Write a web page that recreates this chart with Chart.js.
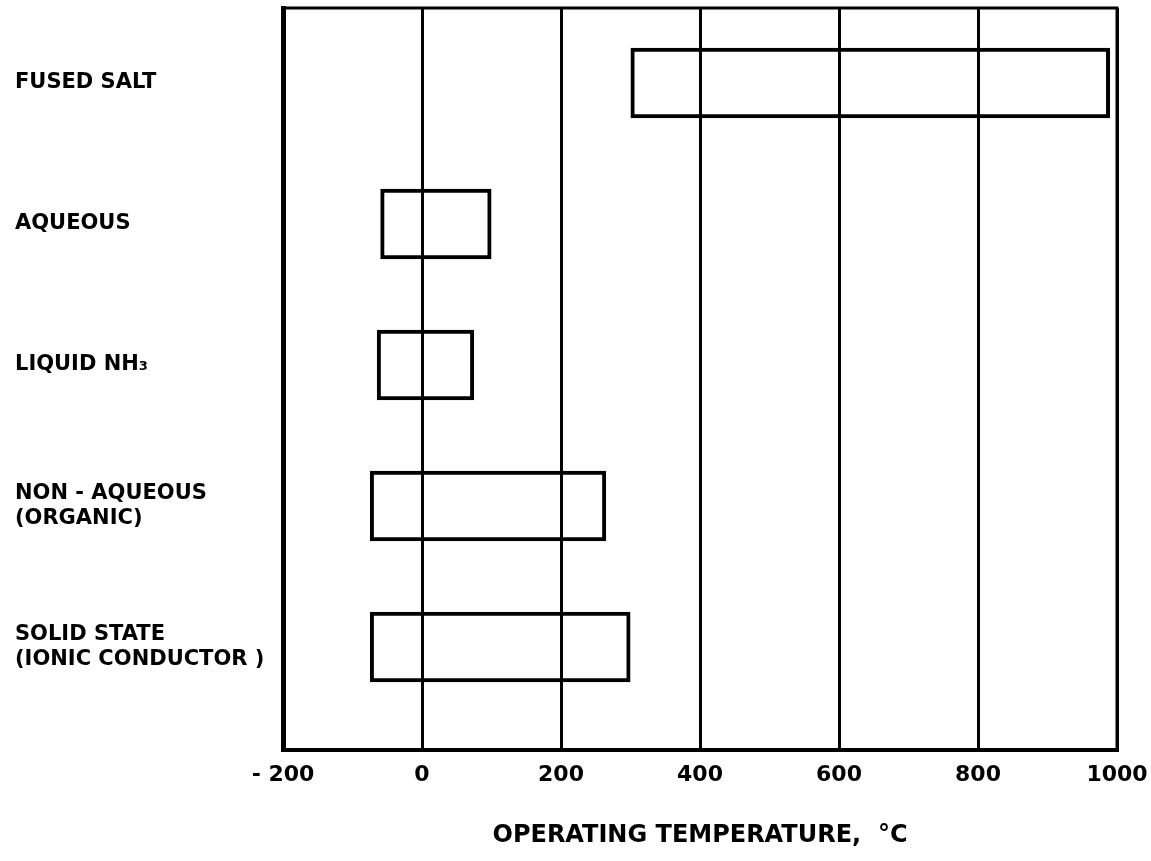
<!DOCTYPE html>
<html>
<head>
<meta charset="utf-8">
<script src="https://cdn.jsdelivr.net/npm/chart.js@4/dist/chart.umd.min.js"></script>
<style>
  html, body { margin: 0; padding: 0; background: #fff; }
  #wrap { width: 1151px; height: 861px; }
</style>
</head>
<body>
<div id="wrap"><canvas id="chart"></canvas></div>
<script>
// electrolyte types, top to bottom
const categories = [
  "FUSED SALT",
  "AQUEOUS",
  "LIQUID NH₃",
  ["NON - AQUEOUS", "(ORGANIC)"],
  ["SOLID STATE", "(IONIC CONDUCTOR )"]
];
// operating range, deg C
const rangeLow = [300, -60, -65, -75, -75];
const rangeHigh = [990, 100, 75, 265, 300];
const xTicks = [-200, 0, 200, 400, 600, 800, 1000];
const xTitle = "OPERATING TEMPERATURE,  °C";

const fontFam = "'DejaVu Sans', sans-serif";

const bars = categories.map((c, i) => ({ x: [rangeLow[i], rangeHigh[i]], y: i }));

// top + right edges of the frame
const framePlugin = {
  id: "frame",
  afterDraw(chart) {
    const { ctx, chartArea: a } = chart;
    ctx.save();
    ctx.strokeStyle = "#000";
    ctx.lineWidth = 3;
    ctx.beginPath();
    ctx.moveTo(a.left, a.top);
    ctx.lineTo(a.right, a.top);
    ctx.lineTo(a.right, a.bottom);
    ctx.stroke();
    ctx.restore();
  }
};

const config = {
  type: "bar",
  data: {
    datasets: [{
      data: bars,
      backgroundColor: "rgba(0,0,0,0)",
      borderColor: "#000",
      borderWidth: 4,
      borderSkipped: false,
      barPercentage: 0.5,
      categoryPercentage: 1.0
    }]
  },
  options: {
    indexAxis: "y",
    responsive: true,
    maintainAspectRatio: false,
    animation: false,
    layout: { padding: { left: 15, top: 8, right: 34, bottom: 5 } },
    plugins: {
      legend: { display: false },
      tooltip: { enabled: false }
    },
    scales: {
      x: {
        type: "linear",
        min: -200,
        max: 1000,
        afterBuildTicks: (s) => { s.ticks = xTicks.map(v => ({ value: v })); },
        afterFit: (s) => { s.paddingLeft = 0; s.paddingRight = 0; },
        grid: { color: "#000", lineWidth: 3, drawTicks: false },
        border: { color: "#000", width: 4 },
        ticks: {
          color: "#000",
          padding: 12,
          font: { family: fontFam, size: 22, weight: "bold" },
          callback: (v) => v < 0 ? "- " + (-v) : String(v)
        },
        title: {
          display: true,
          text: xTitle,
          color: "#000",
          font: { family: fontFam, size: 24, weight: "bold" },
          padding: { top: 21, bottom: 6 }
        }
      },
      y: {
        type: "linear",
        reverse: true,
        offset: false,
        min: -0.532,
        max: 4.73,
        afterBuildTicks: (s) => { s.ticks = categories.map((c, i) => ({ value: i })); },
        afterFit: (s) => { s.width = 268; s.paddingTop = 0; s.paddingBottom = 0; },
        grid: { display: false, offset: false },
        border: { color: "#000", width: 5 },
        ticks: {
          color: "#000",
          crossAlign: "far",
          autoSkip: false,
          font: { family: fontFam, size: 21, weight: "bold" },
          callback: (v) => categories[v]
        }
      }
    }
  },
  plugins: [framePlugin]
};

new Chart(document.getElementById("chart"), config);
</script>
</body>
</html>
